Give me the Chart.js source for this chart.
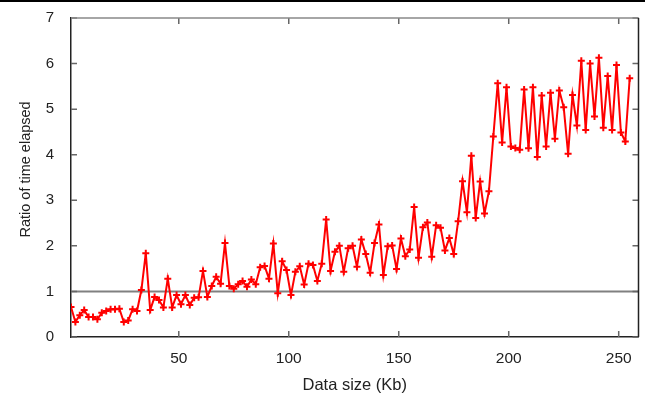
<!DOCTYPE html>
<html>
<head>
<meta charset="utf-8">
<script src="https://cdn.jsdelivr.net/npm/chart.js@4/dist/chart.umd.min.js"></script>
<style>
  html, body { margin: 0; padding: 0; background: #fff; }
  canvas { display: block; }
</style>
</head>
<body>
<canvas id="ratioChart" width="645" height="398"></canvas>
<script>
// data size in Kb (x)
var sizeKb = [
  1, 3, 5, 7, 9, 11, 13, 15, 17, 19, 21, 23, 25, 27, 29, 31,
  33, 35, 37, 39, 41, 43, 45, 47, 49, 51, 53, 55, 57, 59, 61, 63,
  65, 67, 69, 71, 73, 75, 77, 79, 81, 83, 85, 87, 89, 91, 93, 95,
  97, 99, 101, 103, 105, 107, 109, 111, 113, 115, 117, 119, 121, 123, 125, 127,
  129, 131, 133, 135, 137, 139, 141, 143, 145, 147, 149, 151, 153, 155, 157, 159,
  161, 163, 165, 167, 169, 171, 173, 175, 177, 179, 181, 183, 185, 187, 189, 191,
  193, 195, 197, 199, 201, 203, 205, 207, 209, 211, 213, 215, 217, 219, 221, 223,
  225, 227, 229, 231, 233, 235, 237, 239, 241, 243, 245, 247, 249, 251, 253, 255
];
// ratio of time elapsed (y)
var ratio = [
  0.66, 0.33, 0.48, 0.59, 0.44, 0.44, 0.39, 0.53, 0.57, 0.61, 0.61, 0.62, 0.33, 0.36, 0.61, 0.57,
  1.03, 1.84, 0.59, 0.88, 0.81, 0.65, 1.28, 0.65, 0.92, 0.72, 0.92, 0.70, 0.86, 0.87, 1.45, 0.88,
  1.12, 1.32, 1.17, 2.06, 1.12, 1.06, 1.16, 1.23, 1.10, 1.26, 1.16, 1.53, 1.56, 1.28, 2.05, 0.96,
  1.66, 1.47, 0.92, 1.43, 1.55, 1.15, 1.61, 1.58, 1.23, 1.61, 2.58, 1.45, 1.87, 2.00, 1.43, 1.95,
  2.00, 1.54, 2.14, 1.82, 1.41, 2.06, 2.47, 1.36, 1.99, 2.01, 1.49, 2.16, 1.77, 1.92, 2.85, 1.74,
  2.41, 2.51, 1.76, 2.45, 2.40, 1.90, 2.17, 1.82, 2.54, 3.42, 2.74, 3.98, 2.61, 3.41, 2.71, 3.20,
  4.40, 5.57, 4.27, 5.48, 4.18, 4.15, 4.11, 5.43, 4.14, 5.48, 3.95, 5.30, 4.18, 5.36, 4.35, 5.41,
  5.04, 4.02, 5.31, 4.64, 6.06, 4.54, 6.00, 4.84, 6.13, 4.59, 5.73, 4.54, 5.97, 4.49, 4.29, 5.68
];
// reference level drawn across the plot
var baseline = 1;
var xTicks = [50, 100, 150, 200, 250];
var yTicks = [0, 1, 2, 3, 4, 5, 6, 7];
var xMin = 1, xMax = 259;

var family = "'Liberation Sans', Arial, sans-serif";

// gnuplot-style frame: inward tick marks on all four sides plus top/right edges
var framePlugin = {
  id: 'frame',
  beforeDraw: function (chart) {
    var c = chart.ctx;
    c.save();
    c.fillStyle = '#000';
    c.fillRect(0, 0, chart.width, 2);
    c.restore();
  },
  afterDatasetsDraw: function (chart) {
    var c = chart.ctx, a = chart.chartArea;
    var xs = chart.scales.x, ys = chart.scales.y;
    c.save();
    c.strokeStyle = '#666';
    c.lineWidth = 1.5;
    c.beginPath();
    xTicks.forEach(function (v) {
      var px = xs.getPixelForValue(v);
      c.moveTo(px, a.bottom); c.lineTo(px, a.bottom - 6);
      c.moveTo(px, a.top); c.lineTo(px, a.top + 6);
    });
    yTicks.forEach(function (v) {
      var py = ys.getPixelForValue(v);
      c.moveTo(a.left, py); c.lineTo(a.left + 6, py);
      c.moveTo(a.right, py); c.lineTo(a.right - 6, py);
    });
    c.stroke();
    c.strokeStyle = '#888';
    c.beginPath();
    c.moveTo(a.left, a.top); c.lineTo(a.right, a.top);
    c.stroke();
    c.strokeStyle = '#222';
    c.beginPath();
    c.moveTo(a.right, a.top); c.lineTo(a.right, a.bottom);
    c.stroke();
    c.restore();
  }
};

var ctx = document.getElementById('ratioChart').getContext('2d');
var myChart = new Chart(ctx, {
  type: 'line',
  data: {
    datasets: [{
      label: 'baseline',
      data: [{ x: xMin, y: baseline }, { x: xMax, y: baseline }],
      borderColor: '#808080',
      borderWidth: 2,
      pointRadius: 0,
      order: 2
    }, {
      label: 'ratio',
      data: sizeKb.map(function (x, i) { return { x: x, y: ratio[i] }; }),
      borderColor: '#ff0000',
      backgroundColor: '#ff0000',
      borderWidth: 2,
      pointStyle: 'cross',
      pointRadius: 3.5,
      pointBorderWidth: 2,
      pointBorderColor: '#ff0000',
      tension: 0,
      order: 1
    }]
  },
  options: {
    responsive: false,
    animation: false,
    devicePixelRatio: 1,
    layout: { padding: { left: 0, right: 6.5, top: 16, bottom: 0 } },
    plugins: {
      legend: { display: false },
      tooltip: { enabled: false }
    },
    scales: {
      x: {
        type: 'linear',
        min: xMin,
        max: xMax,
        afterBuildTicks: function (scale) {
          scale.ticks = xTicks.map(function (v) { return { value: v }; });
        },
        afterFit: function (scale) { scale.height = 61; },
        grid: { display: false },
        border: { color: '#222', width: 1.5 },
        ticks: { color: '#222', font: { family: family, size: 15.5 }, padding: 4, maxRotation: 0 },
        title: {
          display: true,
          text: 'Data size (Kb)',
          color: '#222',
          font: { family: family, size: 16.5 },
          padding: { top: 0, bottom: 3 }
        }
      },
      y: {
        min: 0,
        max: 7,
        afterBuildTicks: function (scale) {
          scale.ticks = yTicks.map(function (v) { return { value: v }; });
        },
        afterFit: function (scale) { scale.width = 71; },
        grid: { display: false },
        border: { color: '#222', width: 1.5 },
        ticks: { color: '#222', font: { family: family, size: 15 }, padding: 9 },
        title: {
          display: true,
          text: '    Ratio of time elapsed',
          color: '#222',
          font: { family: family, size: 14.5 },
          padding: { top: 17, bottom: 0 }
        }
      }
    }
  },
  plugins: [framePlugin]
});
</script>
</body>
</html>
